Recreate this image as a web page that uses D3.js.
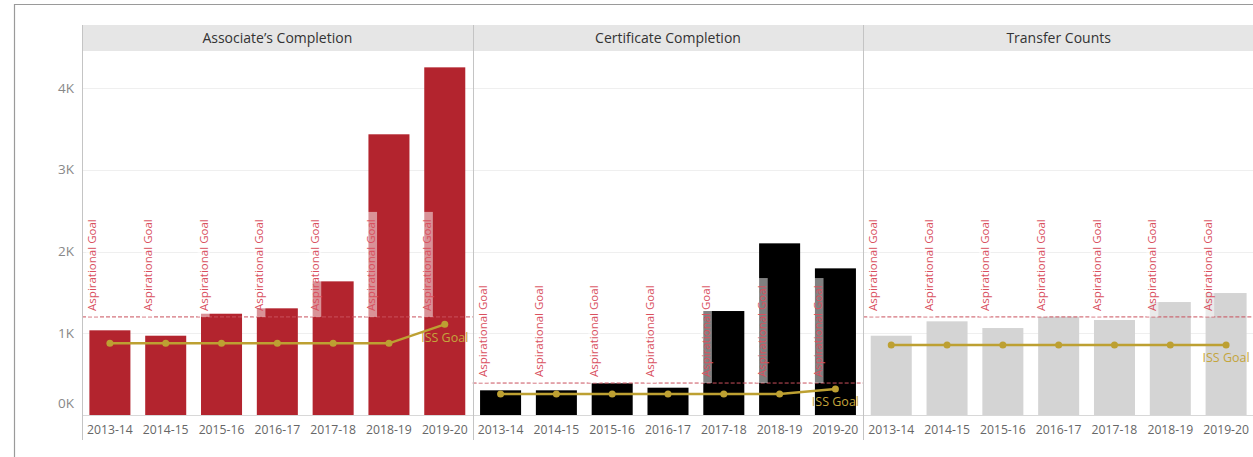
<!DOCTYPE html>
<html>
<head>
<meta charset="utf-8">
<script src="https://cdn.jsdelivr.net/npm/d3@7"></script>
<style>
  body { margin: 0; background: #fff; }
  text { font-family: "Open Sans", sans-serif; }
</style>
</head>
<body>
<script>
var svgWidth = 1253;
var svgHeight = 457;

// data
var years = ["2013-14", "2014-15", "2015-16", "2016-17", "2017-18", "2018-19", "2019-20"];
var panelNames = ["Associate\u2019s Completion", "Certificate Completion", "Transfer Counts"];
var associateCounts = [1036, 970, 1239, 1305, 1635, 3434, 4253];
var certificateCounts = [302, 302, 388, 334, 1272, 2100, 1794];
var transferCounts = [970, 1146, 1064, 1202, 1162, 1382, 1492];
var associateIss = [877, 877, 877, 877, 877, 877, 1109];
var certificateIss = [257, 257, 257, 257, 257, 257, 318];
var transferIss = [856, 856, 856, 856, 856, 856, 856];
var aspirationalGoals = [1200, 391, 1200];
var yTicks = [0, 1000, 2000, 3000, 4000];
var barColors = ["#b3242e", "#000000", "#d4d4d4"];

var barSeries = [associateCounts, certificateCounts, transferCounts];
var issSeries = [associateIss, certificateIss, transferIss];

var svg = d3.select("body").append("svg").attr("width", svgWidth).attr("height", svgHeight);

var plotTop = 51, plotBottom = 415;

var yScale = d3.scaleLinear()
  .domain([0, 4453])
  .range([plotBottom, plotTop]);

var panelScale = d3.scaleBand()
  .domain(panelNames)
  .range([82, 1254]);

var xScale = d3.scaleBand()
  .domain(years)
  .range([0, panelScale.bandwidth()])
  .paddingInner(0.265)
  .paddingOuter(0.1325);

// outer frame
svg.append("path")
  .attr("d", "M14.5," + svgHeight + "V4.5H" + svgWidth)
  .attr("fill", "none")
  .attr("stroke", "#9a9a9a")
  .attr("stroke-width", 1.2);

// header strip
svg.append("rect")
  .attr("x", 82).attr("y", 25)
  .attr("width", svgWidth - 82).attr("height", 26)
  .attr("fill", "#e6e6e6");

// gridlines
svg.selectAll(".grid").data(yTicks.slice(1)).join("line")
  .attr("class", "grid")
  .attr("x1", 82).attr("x2", svgWidth)
  .attr("y1", function(d) { return Math.round(yScale(d)) + 0.5; })
  .attr("y2", function(d) { return Math.round(yScale(d)) + 0.5; })
  .attr("stroke", "#efefef");

// y axis labels
svg.selectAll(".ylab").data(yTicks).join("text")
  .attr("class", "ylab")
  .attr("x", 74)
  .attr("y", function(d) { return d === 0 ? yScale(d) - 12 : yScale(d); })
  .attr("dy", "0.35em")
  .attr("text-anchor", "end")
  .attr("font-size", 13.5)
  .attr("fill", "#888")
  .text(function(d) { return (d / 1000) + "K"; });

var panels = svg.selectAll(".panel").data(panelNames).join("g")
  .attr("class", "panel")
  .attr("transform", function(d) { return "translate(" + panelScale(d) + ",0)"; });

// header text
panels.append("text")
  .attr("x", panelScale.bandwidth() / 2)
  .attr("y", 38)
  .attr("dy", "0.35em")
  .attr("text-anchor", "middle")
  .attr("font-size", 14)
  .attr("fill", "#333")
  .text(function(d) { return d; });

// bars
panels.each(function(name, i) {
  var g = d3.select(this);
  var rows = years.map(function(y, j) {
    return { year: y, value: barSeries[i][j], iss: issSeries[i][j] };
  });

  g.selectAll(".bar").data(rows).join("rect")
    .attr("class", "bar")
    .attr("x", function(d) { return xScale(d.year); })
    .attr("y", function(d) { return yScale(d.value); })
    .attr("width", xScale.bandwidth())
    .attr("height", function(d) { return yScale(0) - yScale(d.value); })
    .attr("fill", barColors[i]);

  // aspirational goal
  var goalY = yScale(aspirationalGoals[i]);
  g.append("line")
    .attr("x1", 0).attr("x2", panelScale.bandwidth())
    .attr("y1", goalY).attr("y2", goalY)
    .attr("stroke", "#c9505c")
    .attr("stroke-width", 1)
    .attr("stroke-dasharray", "4,2");

  var labels = g.selectAll(".asp").data(years).join("g")
    .attr("class", "asp")
    .attr("transform", function(d) {
      return "translate(" + (xScale(d) - xScale.paddingOuter() * xScale.step() + 10) + "," + (goalY - 6) + ") rotate(-90)";
    });
  labels.append("rect")
    .attr("x", -6).attr("y", -6)
    .attr("width", 105).attr("height", 12)
    .attr("fill", "#fff")
    .attr("fill-opacity", 0.5);
  labels.append("text")
    .attr("x", 0).attr("y", 0)
    .attr("dy", "0.35em")
    .attr("font-size", 11.5)
    .attr("fill", "#d9505e")
    .text("Aspirational Goal");

  // ISS goal line
  var line = d3.line()
    .x(function(d) { return xScale(d.year) + xScale.bandwidth() / 2; })
    .y(function(d) { return yScale(d.iss); });
  g.append("path")
    .attr("d", line(rows))
    .attr("fill", "none")
    .attr("stroke", "#bda032")
    .attr("stroke-width", 2.5);
  g.selectAll(".iss").data(rows).join("circle")
    .attr("class", "iss")
    .attr("cx", function(d) { return xScale(d.year) + xScale.bandwidth() / 2; })
    .attr("cy", function(d) { return yScale(d.iss); })
    .attr("r", 3.5)
    .attr("fill", "#bda032");
  var last = rows[rows.length - 1];
  g.append("text")
    .attr("x", xScale(last.year) + xScale.bandwidth() / 2)
    .attr("y", yScale(last.iss) + 13)
    .attr("dy", "0.35em")
    .attr("text-anchor", "middle")
    .attr("font-size", 12.5)
    .attr("fill", "#c4a53c")
    .text("ISS Goal");

  // x labels
  g.selectAll(".xlab").data(years).join("text")
    .attr("class", "xlab")
    .attr("x", function(d) { return xScale(d) + xScale.bandwidth() / 2; })
    .attr("y", 430)
    .attr("dy", "0.35em")
    .attr("text-anchor", "middle")
    .attr("font-size", 12.2)
    .attr("fill", "#666")
    .text(function(d) { return d; });
});

// zero line
svg.append("line")
  .attr("x1", 82).attr("x2", svgWidth)
  .attr("y1", plotBottom + 0.5).attr("y2", plotBottom + 0.5)
  .attr("stroke", "#d8d8d8");

// panel separators
svg.selectAll(".sep").data(panelNames).join("line")
  .attr("class", "sep")
  .attr("x1", function(d) { return Math.round(panelScale(d)) + 0.5; })
  .attr("x2", function(d) { return Math.round(panelScale(d)) + 0.5; })
  .attr("y1", 25)
  .attr("y2", 440)
  .attr("stroke", "#c4c4c4");
</script>
</body>
</html>
